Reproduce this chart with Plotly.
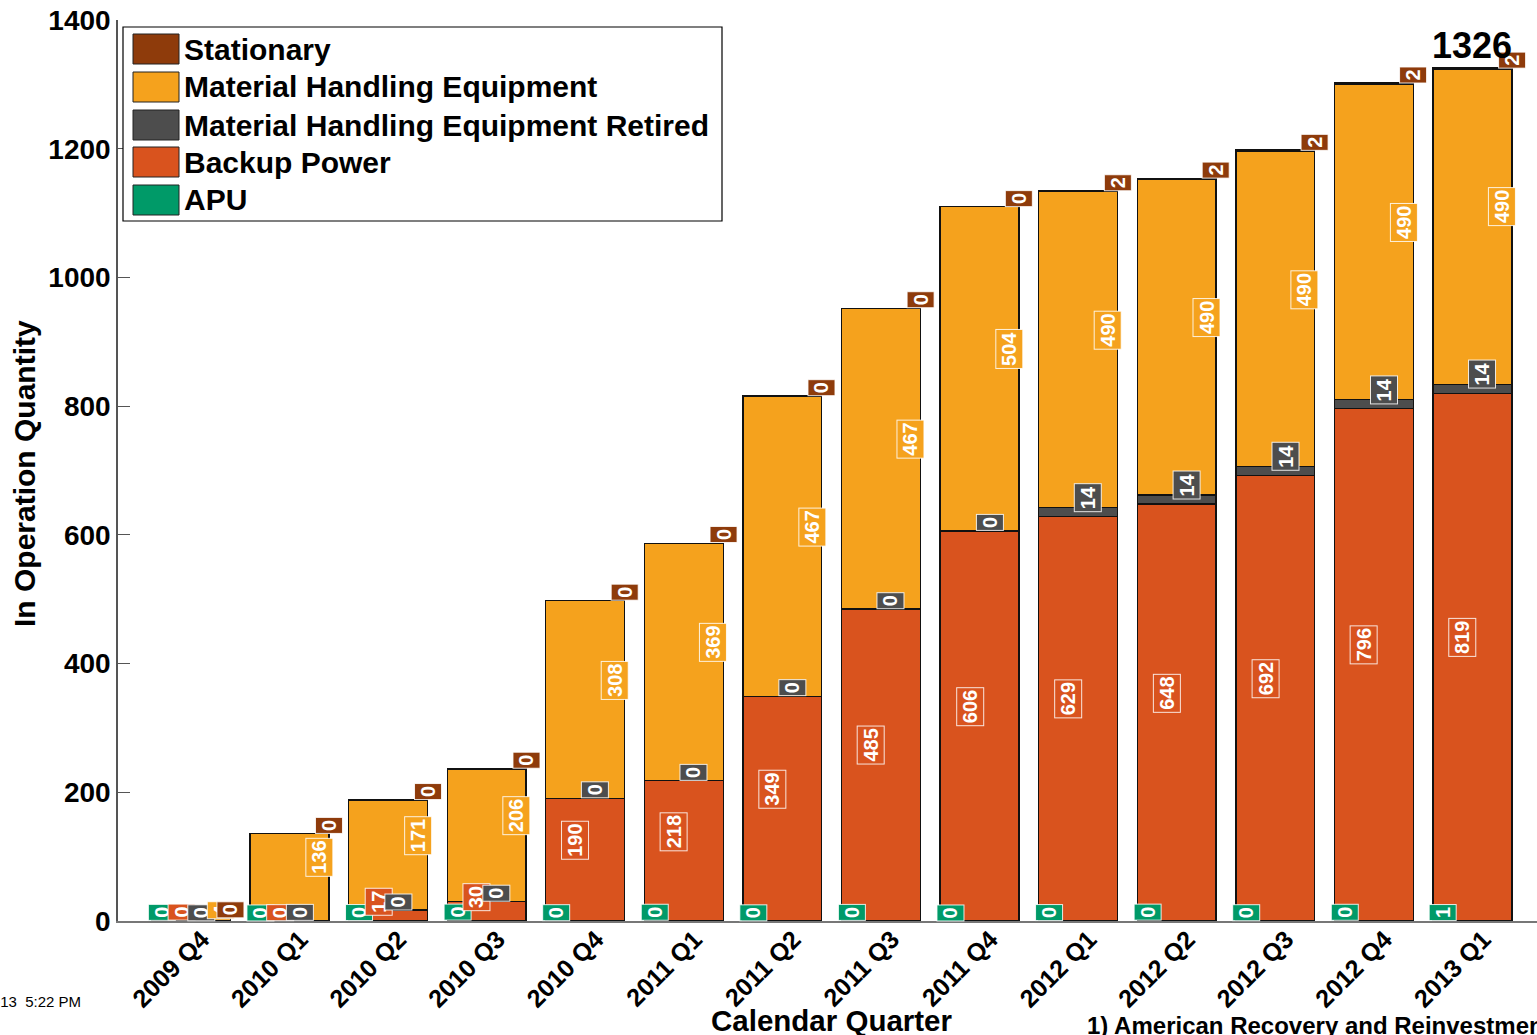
import plotly.graph_objects as go

# ---------------- data ----------------
quarters = ["2009 Q4", "2010 Q1", "2010 Q2", "2010 Q3", "2010 Q4", "2011 Q1", "2011 Q2",
            "2011 Q3", "2011 Q4", "2012 Q1", "2012 Q2", "2012 Q3", "2012 Q4", "2013 Q1"]
apu = [0, 0, 0, 0, 0, 0, 0, 0, 0, 0, 0, 0, 0, 1]
backup_power = [0, 0, 17, 30, 190, 218, 349, 485, 606, 629, 648, 692, 796, 819]
mhe_retired = [0, 0, 0, 0, 0, 0, 0, 0, 0, 14, 14, 14, 14, 14]
mhe = [4, 136, 171, 206, 308, 369, 467, 467, 504, 490, 490, 490, 490, 490]
stationary = [0, 0, 0, 0, 0, 0, 0, 0, 0, 2, 2, 2, 2, 2]

series_names = ["APU", "Backup Power", "Material Handling Equipment Retired",
                "Material Handling Equipment", "Stationary"]
series_values = [apu, backup_power, mhe_retired, mhe, stationary]
series_colors = ["#009A68", "#D9531E", "#4D4D4D", "#F5A21D", "#8E3B0B"]
label_offsets = [-0.30, -0.10, 0.10, 0.30, 0.40]   # horizontal label offsets (category units)

FONT = "Arial, Liberation Sans, sans-serif"

W, H = 1537, 1035
L, R, T, B = 118, 0, 20, 114
PW, PH = W - L - R, H - T - B


def px_x(p):
    return (p - L) / PW


def px_y(p):
    return (H - B - p) / PH


fig = go.Figure()
for name, vals, col in zip(series_names, series_values, series_colors):
    fig.add_trace(go.Bar(
        x=quarters, y=vals, name=name,
        marker=dict(color=col, line=dict(color="#111111", width=1.3)),
        showlegend=False,
    ))

annotations = []
# segment value labels
base = [0] * len(quarters)
seg_info = []
for si, vals in enumerate(series_values):
    for qi, v in enumerate(vals):
        seg_info.append((si, qi, base[qi] + v / 2.0, v))
    base = [b + v for b, v in zip(base, vals)]
totals = base

for si, qi, ymid, v in seg_info:
    annotations.append(dict(
        x=qi + label_offsets[si], y=ymid, xref="x", yref="y",
        text=str(v), showarrow=False, textangle=-90,
        xanchor="center", yanchor="bottom",
        font=dict(family=FONT, size=20, color="white", weight="bold"),
        bgcolor=series_colors[si], bordercolor="rgba(255,255,255,0.85)",
        borderwidth=1, borderpad=2,
    ))

# total label on last quarter
annotations.append(dict(
    x=len(quarters) - 1, y=totals[-1], xref="x", yref="y",
    text=str(totals[-1]), showarrow=False, xanchor="center", yanchor="bottom",
    font=dict(family=FONT, size=36, color="black", weight="bold"),
))

# axis titles and notes
annotations.append(dict(
    x=px_x(24), y=px_y(474), xref="paper", yref="paper", text="In Operation Quantity",
    textangle=-90, showarrow=False, xanchor="center", yanchor="middle",
    font=dict(family=FONT, size=30, color="black", weight="bold"),
))
annotations.append(dict(
    x=px_x(832), y=px_y(1002), xref="paper", yref="paper", text="Calendar Quarter",
    showarrow=False, xanchor="center", yanchor="top",
    font=dict(family=FONT, size=29.5, color="black", weight="bold"),
))
annotations.append(dict(
    x=px_x(1085), y=px_y(1010), xref="paper", yref="paper",
    text="1) American Recovery and Reinvestment Act",
    showarrow=False, xanchor="left", yanchor="top",
    font=dict(family=FONT, size=24, color="black", weight="bold"),
))
annotations.append(dict(
    x=px_x(83), y=px_y(1002), xref="paper", yref="paper",
    text="Created: Mar-29-13\u00a0\u00a05:22 PM",
    showarrow=False, xanchor="right", yanchor="middle",
    font=dict(family=FONT, size=15, color="black"),
))

# custom legend (large swatches)
shapes = [dict(type="rect", xref="paper", yref="paper",
               x0=px_x(123), x1=px_x(722), y0=px_y(221), y1=px_y(27),
               line=dict(color="black", width=1.2), fillcolor="white", layer="above")]
row_centers = [49, 87, 125, 162, 200]
legend_order = list(range(len(series_names)))[::-1]
for rc, si in zip(row_centers, legend_order):
    shapes.append(dict(type="rect", xref="paper", yref="paper",
                       x0=px_x(133), x1=px_x(179), y0=px_y(rc + 15), y1=px_y(rc - 15),
                       line=dict(color="#222222", width=1), fillcolor=series_colors[si],
                       layer="above"))
    annotations.append(dict(
        x=px_x(182), y=px_y(rc), xref="paper", yref="paper", text=series_names[si],
        showarrow=False, xanchor="left", yanchor="middle",
        font=dict(family=FONT, size=30, color="black", weight="bold"),
    ))

fig.update_layout(
    width=W, height=H, autosize=False,
    margin=dict(l=L, r=R, t=T, b=B, pad=0),
    barmode="stack", bargap=0.2,
    paper_bgcolor="white", plot_bgcolor="white",
    font=dict(family=FONT, color="black"),
    annotations=annotations, shapes=shapes,
    xaxis=dict(
        type="category", range=[-0.74, 13.655], showline=True, linecolor="#777777",
        linewidth=1.5, showgrid=False, zeroline=False, ticks="", tickangle=-45,
        ticklabelshift=11, ticklabelstandoff=-8,
        tickfont=dict(family=FONT, size=25, color="black", weight="bold"),
    ),
    yaxis=dict(
        range=[0, 1400], tickvals=[0, 200, 400, 600, 800, 1000, 1200, 1400],
        showline=True, linecolor="#555555", linewidth=1.5, ticks="inside",
        ticklen=12, tickcolor="#555555", tickwidth=1.2, showgrid=False, zeroline=False,
        ticklabelstandoff=0,
        tickfont=dict(family=FONT, size=28, color="black", weight="bold"),
    ),
)

fig.write_html("out.html", config={"displayModeBar": False},
               post_script="document.body.style.margin='0';")
